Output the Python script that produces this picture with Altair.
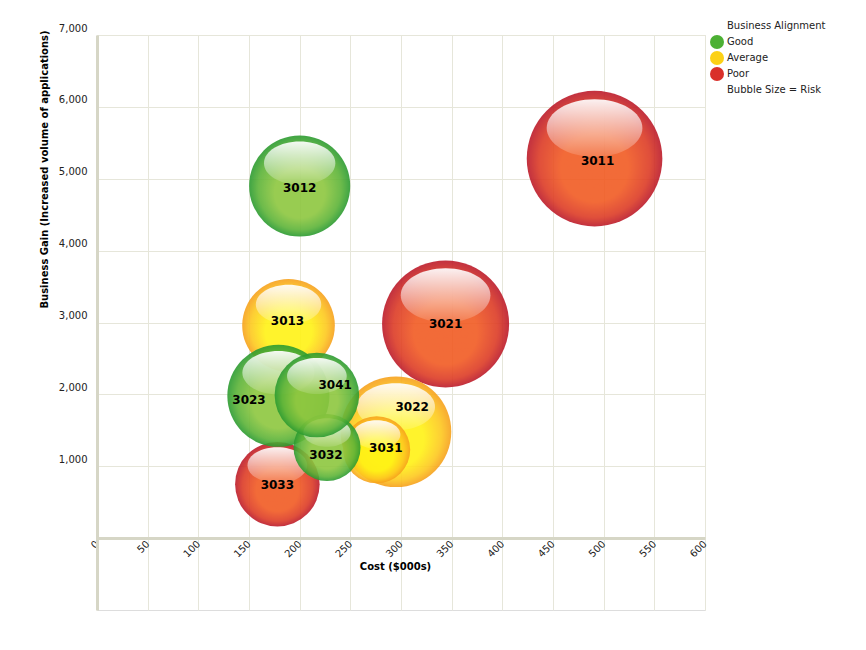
import altair as alt
import pandas as pd

# ---- data ----
ids = ["3011", "3012", "3013", "3021", "3022", "3023", "3031", "3032", "3033", "3041"]
cost = [491, 200, 189, 344, 295, 179, 276, 227, 178, 217]
gain = [5280, 4900, 2960, 2980, 1480, 1980, 1230, 1260, 750, 1990]
risk = [9.0, 5.0, 4.2, 7.9, 6.0, 5.1, 2.2, 2.2, 3.5, 3.5]
alignment = ["Poor", "Good", "Average", "Poor", "Average", "Good", "Average", "Good", "Poor", "Good"]
label_cost = [494, 200, 188, 344, 311, 150, 285, 226, 178, 235]
label_gain = [5245, 4870, 3020, 2980, 1830, 1925, 1250, 1150, 742, 2130]
draw_order = ["3011", "3021", "3033", "3013", "3022", "3031", "3012", "3023", "3032", "3041"]
legend_items = ["Business Alignment", "Good", "Average", "Poor", "Bubble Size = Risk"]
legend_colors = ["transparent", "#4cb034", "#fcd116", "#d9302a", "transparent"]
x_ticks = list(range(0, 601, 50))
y_ticks = list(range(1000, 7001, 1000))

df = pd.DataFrame({
    "id": ids, "cost": cost, "gain": gain, "risk": risk,
    "alignment": alignment, "label_cost": label_cost, "label_gain": label_gain,
})

FONT = "DejaVu Sans"

# ---- styles ----
def radial(center, mid, edge):
    return {
        "gradient": "radial",
        "x1": 0.5, "y1": 0.64, "r1": 0,
        "x2": 0.5, "y2": 0.5, "r2": 0.5,
        "stops": [
            {"offset": 0, "color": center},
            {"offset": 0.5, "color": center},
            {"offset": 0.82, "color": mid},
            {"offset": 1, "color": edge},
        ],
    }

fills = {
    "Good": radial("#8cc63e", "#5cb337", "#2a9a30"),
    "Average": radial("#fff214", "#fdc81e", "#f6a01c"),
    "Poor": radial("#f15a22", "#dc3b25", "#bb1a2a"),
}

highlight = {
    "gradient": "linear", "x1": 0, "y1": 0, "x2": 0, "y2": 1,
    "stops": [
        {"offset": 0, "color": "rgba(255,255,255,0.93)"},
        {"offset": 1, "color": "rgba(255,255,255,0.12)"},
    ],
}

# ellipse (unit square symbol path) for the glossy highlight
cx, cy, rx, ry, k = 0.0, -0.451, 0.706, 0.426, 0.5523
def p(x, y):
    return f"{x:.4f},{y:.4f}"
ellipse = (
    f"M{p(cx-rx, cy)} "
    f"C{p(cx-rx, cy-k*ry)} {p(cx-k*rx, cy-ry)} {p(cx, cy-ry)} "
    f"C{p(cx+k*rx, cy-ry)} {p(cx+rx, cy-k*ry)} {p(cx+rx, cy)} "
    f"C{p(cx+rx, cy+k*ry)} {p(cx+k*rx, cy+ry)} {p(cx, cy+ry)} "
    f"C{p(cx-k*rx, cy+ry)} {p(cx-rx, cy+k*ry)} {p(cx-rx, cy)} Z"
)

xaxis = alt.Axis(
    values=x_ticks, grid=True, gridColor="#e6e6da", ticks=False,
    labelAngle=-45, labelAlign="right", labelBaseline="middle", labelPadding=4,
    labelFontSize=10, labelColor="#222222", labelFont=FONT,
    offset=-72, domainColor="#d6d6c6", domainWidth=3,
    title="Cost ($000s)", titleX=298, titleY=28, titleBaseline="middle",
    titleFontSize=10, titleFontWeight="bold", titleFont=FONT, titleColor="#000000",
)
yaxis = alt.Axis(
    values=y_ticks, format=",.0f", grid=True, gridColor="#e6e6da", ticks=False,
    labelPadding=10, labelOffset=-7, labelFontSize=10, labelColor="#222222", labelFont=FONT,
    domainColor="#d6d6c6", domainWidth=3,
    title="Business Gain (Increased volume of applications)",
    titleX=-53, titleY=134, titleAngle=270, titleAlign="center", titleBaseline="middle",
    titleFontSize=10, titleFontWeight="bold", titleFont=FONT, titleColor="#000000",
)

xs = alt.Scale(domain=[0, 600], nice=False, zero=False)
ys = alt.Scale(domain=[-1000, 7000], nice=False, zero=False)
ss = alt.Scale(domain=[0, 9], range=[0, 18387])

base = alt.Chart(df).encode(
    x=alt.X("cost:Q", scale=xs, axis=xaxis),
    y=alt.Y("gain:Q", scale=ys, axis=yaxis),
    size=alt.Size("risk:Q", scale=ss, legend=None),
)

layers = []
for bid in draw_order:
    cat = alignment[ids.index(bid)]
    sub = base.transform_filter(alt.datum.id == bid)
    layers.append(sub.mark_point(shape="circle", filled=True, fill=fills[cat],
                                 opacity=0.9, strokeWidth=0))
    layers.append(sub.mark_point(shape=ellipse, filled=True, fill=highlight,
                                 opacity=1, strokeWidth=0))

legend_layer = alt.Chart(df).mark_point(filled=True, opacity=0, shape="circle").encode(
    x=alt.X("cost:Q", scale=xs, axis=xaxis),
    y=alt.Y("gain:Q", scale=ys, axis=yaxis),
    color=alt.Color(
        "alignment:N",
        scale=alt.Scale(domain=legend_items, range=legend_colors),
        legend=alt.Legend(
            title=None, orient="none", legendX=613, legendY=-16,
            symbolType="circle", symbolSize=196, symbolOpacity=1, symbolStrokeWidth=0,
            labelFontSize=10, labelFont=FONT, labelColor="#222222",
            labelOffset=3, rowPadding=2, padding=0,
        ),
    ),
)

labels = alt.Chart(df).mark_text(
    fontWeight="bold", fontSize=12, color="#000000", font=FONT
).encode(
    x=alt.X("label_cost:Q", scale=xs, axis=xaxis),
    y=alt.Y("label_gain:Q", scale=ys, axis=yaxis),
    text="id:N",
)

chart = alt.layer(legend_layer, *layers, labels).properties(
    width=608, height=575,
    padding={"left": 89, "top": 27, "right": 153, "bottom": 32},
    autosize=alt.AutoSizeParams(type="none"),
).configure_view(
    stroke="#e2e2d6", strokeWidth=1
).configure(
    background="#ffffff", font=FONT
)

chart.save("out.html", embed_options={"renderer": "svg", "actions": False})
